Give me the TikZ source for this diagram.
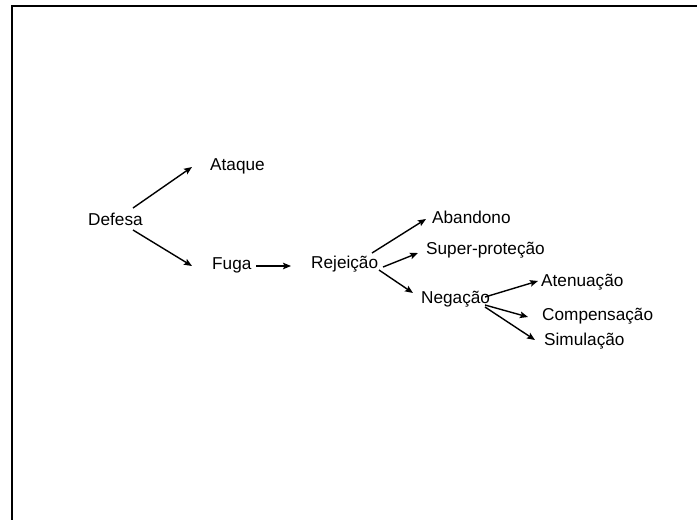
\documentclass[tikz,border=0pt]{standalone}
\usepackage{fontspec}
\setmainfont{Liberation Sans}
\usetikzlibrary{arrows.meta,calc}
\begin{document}
\begin{tikzpicture}[x=1pt,y=-1pt,
  lbl/.style={anchor=west,inner sep=0pt,font=\fontsize{17.2}{20}\selectfont},
  arr/.style={line width=1.4pt,-{Stealth[length=8pt,width=6.5pt,inset=1.5pt]}}]
\useasboundingbox (0,0) rectangle (697,520);
\draw[line width=2pt] (12,521) -- (12,6) -- (697,6);
\node[lbl] (defesa) at (88,219) {Defesa};
\node[lbl] (ataque) at (210,166) {Ataque};
\node[lbl] (fuga) at (212,265) {Fuga};
\node[lbl] (rej) at (311,264) {Rejeição};
\node[lbl] (aband) at (432,217) {Abandono};
\node[lbl] (super) at (426,250) {Super-proteção};
\node[lbl] (neg) at (421,299) {Negação};
\node[lbl] (aten) at (541,282) {Atenuação};
\node[lbl] (comp) at (542,316) {Compensação};
\node[lbl] (simul) at (544,341) {Simulação};
\draw[arr] ($(defesa.west)+(45,-11)$) -- ($(ataque.west)+(-18,1)$);
\draw[arr] ($(defesa.west)+(45,11)$) -- ($(fuga.west)+(-20,1)$);
\draw[arr] ($(fuga.west)+(44,1)$) -- ($(rej.west)+(-20,2)$);
\draw[arr] ($(rej.west)+(61,-11)$) -- ($(aband.west)+(-6,2)$);
\draw[arr] ($(rej.west)+(72,3)$) -- ($(super.west)+(-8,3)$);
\draw[arr] ($(rej.west)+(68,6)$) -- ($(neg.west)+(-8,-6)$);
\draw[arr] ($(neg.west)+(64,-2)$) -- ($(aten.west)+(-3,-1)$);
\draw[arr] ($(neg.west)+(64,6)$) -- ($(comp.west)+(-14,1)$);
\draw[arr] ($(neg.west)+(64,8)$) -- ($(simul.west)+(-9,-1)$);
\end{tikzpicture}
\end{document}
